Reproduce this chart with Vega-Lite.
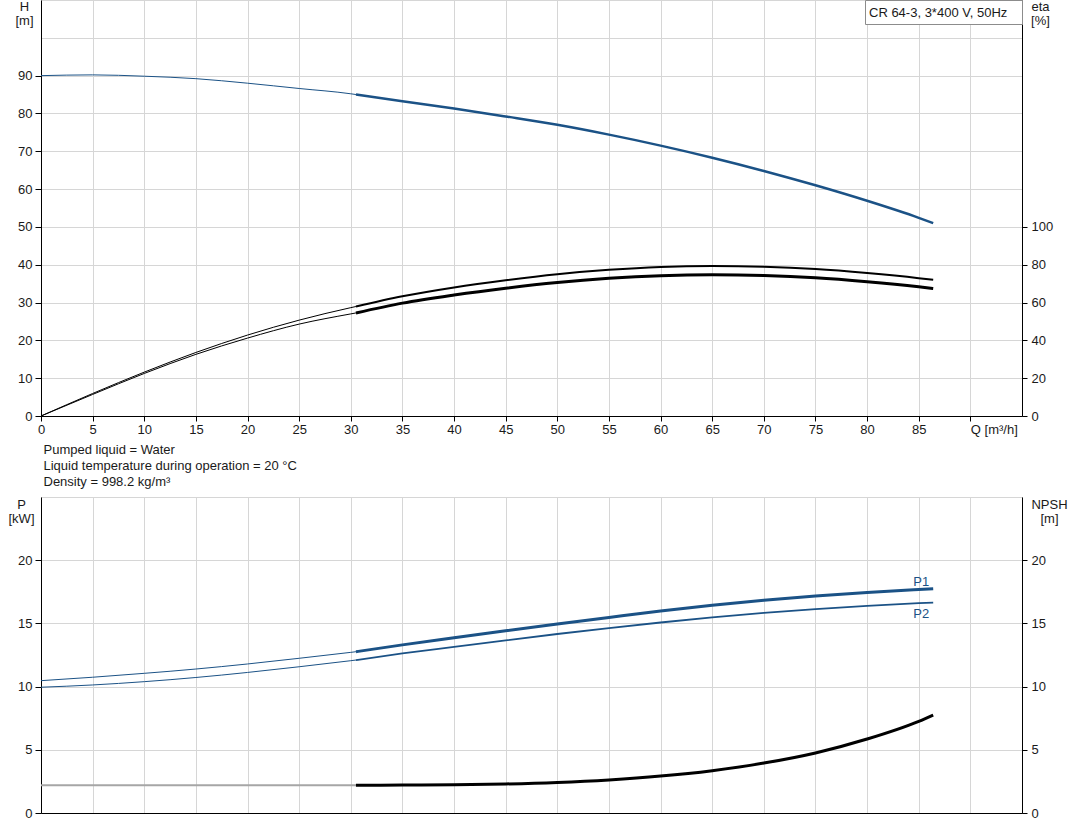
{
  "$schema": "https://vega.github.io/schema/vega-lite/v6.json",
  "background": "white",
  "padding": {"left": 7, "top": -4, "right": 3, "bottom": 20},
  "spacing": 7,
  "datasets": {
    "curves": [
      {"s": "H", "r": "ext", "q": 0, "v": 90.0},
      {"s": "H", "r": "ext", "q": 5, "v": 90.2},
      {"s": "H", "r": "ext", "q": 10, "v": 89.85},
      {"s": "H", "r": "ext", "q": 15, "v": 89.2},
      {"s": "H", "r": "ext", "q": 20, "v": 88.0},
      {"s": "H", "r": "ext", "q": 25, "v": 86.6},
      {"s": "H", "r": "ext", "q": 30, "v": 85.2},
      {"s": "H", "r": "ext", "q": 30.5, "v": 85.0},
      {"s": "H", "r": "duty", "q": 30.5, "v": 85.0},
      {"s": "H", "r": "duty", "q": 35, "v": 83.2},
      {"s": "H", "r": "duty", "q": 40, "v": 81.3},
      {"s": "H", "r": "duty", "q": 45, "v": 79.2},
      {"s": "H", "r": "duty", "q": 50, "v": 77.0},
      {"s": "H", "r": "duty", "q": 55, "v": 74.4},
      {"s": "H", "r": "duty", "q": 60, "v": 71.5},
      {"s": "H", "r": "duty", "q": 65, "v": 68.3},
      {"s": "H", "r": "duty", "q": 70, "v": 64.8},
      {"s": "H", "r": "duty", "q": 75, "v": 61.0},
      {"s": "H", "r": "duty", "q": 80, "v": 56.9},
      {"s": "H", "r": "duty", "q": 85, "v": 52.4},
      {"s": "H", "r": "duty", "q": 86.4, "v": 51.0},

      {"s": "eta", "r": "ext", "q": 0, "v": 0},
      {"s": "eta", "r": "ext", "q": 5, "v": 11.9},
      {"s": "eta", "r": "ext", "q": 10, "v": 23.2},
      {"s": "eta", "r": "ext", "q": 15, "v": 33.6},
      {"s": "eta", "r": "ext", "q": 20, "v": 42.8},
      {"s": "eta", "r": "ext", "q": 25, "v": 50.7},
      {"s": "eta", "r": "ext", "q": 30, "v": 57.3},
      {"s": "eta", "r": "ext", "q": 30.5, "v": 57.9},
      {"s": "eta", "r": "duty", "q": 30.5, "v": 57.9},
      {"s": "eta", "r": "duty", "q": 35, "v": 63.3},
      {"s": "eta", "r": "duty", "q": 40, "v": 68.0},
      {"s": "eta", "r": "duty", "q": 45, "v": 71.8},
      {"s": "eta", "r": "duty", "q": 50, "v": 75.0},
      {"s": "eta", "r": "duty", "q": 55, "v": 77.3},
      {"s": "eta", "r": "duty", "q": 60, "v": 78.8},
      {"s": "eta", "r": "duty", "q": 65, "v": 79.3},
      {"s": "eta", "r": "duty", "q": 70, "v": 78.9},
      {"s": "eta", "r": "duty", "q": 75, "v": 77.7},
      {"s": "eta", "r": "duty", "q": 80, "v": 75.6},
      {"s": "eta", "r": "duty", "q": 85, "v": 72.9},
      {"s": "eta", "r": "duty", "q": 86.4, "v": 72.0},

      {"s": "etaT", "r": "ext", "q": 0, "v": 0},
      {"s": "etaT", "r": "ext", "q": 5, "v": 11.4},
      {"s": "etaT", "r": "ext", "q": 10, "v": 22.5},
      {"s": "etaT", "r": "ext", "q": 15, "v": 32.6},
      {"s": "etaT", "r": "ext", "q": 20, "v": 41.2},
      {"s": "etaT", "r": "ext", "q": 25, "v": 48.6},
      {"s": "etaT", "r": "ext", "q": 30, "v": 54.0},
      {"s": "etaT", "r": "ext", "q": 30.5, "v": 54.5},
      {"s": "etaT", "r": "duty", "q": 30.5, "v": 54.5},
      {"s": "etaT", "r": "duty", "q": 35, "v": 59.7},
      {"s": "etaT", "r": "duty", "q": 40, "v": 64.0},
      {"s": "etaT", "r": "duty", "q": 45, "v": 67.6},
      {"s": "etaT", "r": "duty", "q": 50, "v": 70.6},
      {"s": "etaT", "r": "duty", "q": 55, "v": 72.8},
      {"s": "etaT", "r": "duty", "q": 60, "v": 74.2},
      {"s": "etaT", "r": "duty", "q": 65, "v": 74.7},
      {"s": "etaT", "r": "duty", "q": 70, "v": 74.3},
      {"s": "etaT", "r": "duty", "q": 75, "v": 73.1},
      {"s": "etaT", "r": "duty", "q": 80, "v": 71.0},
      {"s": "etaT", "r": "duty", "q": 85, "v": 68.3},
      {"s": "etaT", "r": "duty", "q": 86.4, "v": 67.4},

      {"s": "P1", "r": "ext", "q": 0, "v": 10.47},
      {"s": "P1", "r": "ext", "q": 5, "v": 10.74},
      {"s": "P1", "r": "ext", "q": 10, "v": 11.05},
      {"s": "P1", "r": "ext", "q": 15, "v": 11.39},
      {"s": "P1", "r": "ext", "q": 20, "v": 11.79},
      {"s": "P1", "r": "ext", "q": 25, "v": 12.24},
      {"s": "P1", "r": "ext", "q": 30, "v": 12.71},
      {"s": "P1", "r": "ext", "q": 30.5, "v": 12.76},
      {"s": "P1", "r": "duty", "q": 30.5, "v": 12.76},
      {"s": "P1", "r": "duty", "q": 35, "v": 13.3},
      {"s": "P1", "r": "duty", "q": 40, "v": 13.86},
      {"s": "P1", "r": "duty", "q": 45, "v": 14.41},
      {"s": "P1", "r": "duty", "q": 50, "v": 14.95},
      {"s": "P1", "r": "duty", "q": 55, "v": 15.47},
      {"s": "P1", "r": "duty", "q": 60, "v": 15.98},
      {"s": "P1", "r": "duty", "q": 65, "v": 16.43},
      {"s": "P1", "r": "duty", "q": 70, "v": 16.83},
      {"s": "P1", "r": "duty", "q": 75, "v": 17.17},
      {"s": "P1", "r": "duty", "q": 80, "v": 17.45},
      {"s": "P1", "r": "duty", "q": 85, "v": 17.68},
      {"s": "P1", "r": "duty", "q": 86.4, "v": 17.74},

      {"s": "P2", "r": "ext", "q": 0, "v": 9.95},
      {"s": "P2", "r": "ext", "q": 5, "v": 10.13},
      {"s": "P2", "r": "ext", "q": 10, "v": 10.39},
      {"s": "P2", "r": "ext", "q": 15, "v": 10.72},
      {"s": "P2", "r": "ext", "q": 20, "v": 11.12},
      {"s": "P2", "r": "ext", "q": 25, "v": 11.57},
      {"s": "P2", "r": "ext", "q": 30, "v": 12.05},
      {"s": "P2", "r": "ext", "q": 30.5, "v": 12.1},
      {"s": "P2", "r": "duty", "q": 30.5, "v": 12.1},
      {"s": "P2", "r": "duty", "q": 35, "v": 12.62},
      {"s": "P2", "r": "duty", "q": 40, "v": 13.14},
      {"s": "P2", "r": "duty", "q": 45, "v": 13.66},
      {"s": "P2", "r": "duty", "q": 50, "v": 14.16},
      {"s": "P2", "r": "duty", "q": 55, "v": 14.63},
      {"s": "P2", "r": "duty", "q": 60, "v": 15.07},
      {"s": "P2", "r": "duty", "q": 65, "v": 15.47},
      {"s": "P2", "r": "duty", "q": 70, "v": 15.83},
      {"s": "P2", "r": "duty", "q": 75, "v": 16.13},
      {"s": "P2", "r": "duty", "q": 80, "v": 16.39},
      {"s": "P2", "r": "duty", "q": 85, "v": 16.6},
      {"s": "P2", "r": "duty", "q": 86.4, "v": 16.65},

      {"s": "NPSH", "r": "ext", "q": 0, "v": 2.2},
      {"s": "NPSH", "r": "ext", "q": 30.5, "v": 2.2},
      {"s": "NPSH", "r": "duty", "q": 30.5, "v": 2.2},
      {"s": "NPSH", "r": "duty", "q": 35, "v": 2.21},
      {"s": "NPSH", "r": "duty", "q": 40, "v": 2.24},
      {"s": "NPSH", "r": "duty", "q": 45, "v": 2.3},
      {"s": "NPSH", "r": "duty", "q": 50, "v": 2.42},
      {"s": "NPSH", "r": "duty", "q": 55, "v": 2.62},
      {"s": "NPSH", "r": "duty", "q": 60, "v": 2.92},
      {"s": "NPSH", "r": "duty", "q": 65, "v": 3.35},
      {"s": "NPSH", "r": "duty", "q": 70, "v": 3.95},
      {"s": "NPSH", "r": "duty", "q": 75, "v": 4.75},
      {"s": "NPSH", "r": "duty", "q": 80, "v": 5.85},
      {"s": "NPSH", "r": "duty", "q": 85, "v": 7.25},
      {"s": "NPSH", "r": "duty", "q": 86.4, "v": 7.75}
    ]
  },
  "data": {"name": "curves"},
  "vconcat": [
    {
      "width": 981,
      "height": 416,
      "encoding": {
        "x": {
          "field": "q", "type": "quantitative",
          "scale": {"domain": [0, 95], "nice": false, "zero": false},
          "axis": {
            "values": [0, 5, 10, 15, 20, 25, 30, 35, 40, 45, 50, 55, 60, 65, 70, 75, 80, 85, 90],
            "grid": true,
            "labelExpr": "datum.value == 90 ? 'Q [m³/h]' : datum.label",
            "labelAlign": {"condition": {"test": "datum.value == 90", "value": "left"}, "value": "center"},
            "tickSize": 5,
            "labelPadding": 2,
            "title": ["Pumped liquid = Water", "Liquid temperature during operation = 20 °C", "Density = 998.2 kg/m³"],
            "titleAnchor": "start",
            "titleAlign": "left",
            "titleBaseline": "top",
            "titleX": 2,
            "titleY": 27,
            "titleLineHeight": 16
          }
        }
      },
      "layer": [
        {
          "transform": [{"filter": "datum.s == 'H'"}],
          "encoding": {
            "y": {
              "field": "v", "type": "quantitative",
              "scale": {"domain": [0, 110], "nice": false, "zero": false},
              "axis": {
                "values": [0, 10, 20, 30, 40, 50, 60, 70, 80, 90, 100, 110],
                "grid": true,
                "labelExpr": "datum.value > 90 ? '' : datum.label",
                "labelFontSize": {"condition": {"test": "datum.value > 90", "value": 0}, "value": 13},
                "tickOpacity": {"condition": {"test": "datum.value > 90", "value": 0}, "value": 1},
                "tickSize": 6,
                "labelPadding": 3,
                "title": ["H", "[m]"],
                "titleAngle": 0,
                "titleAlign": "center",
                "titleBaseline": "top",
                "titleX": -17,
                "titleY": 0,
                "titleLineHeight": 14
              }
            }
          },
          "layer": [
            {"transform": [{"filter": "datum.r == 'ext'"}], "mark": {"type": "line", "color": "#1b5286", "strokeWidth": 1, "interpolate": "monotone"}},
            {"transform": [{"filter": "datum.r == 'duty'"}], "mark": {"type": "line", "color": "#1b5286", "strokeWidth": 2.5, "interpolate": "monotone"}}
          ]
        },
        {
          "transform": [{"filter": "datum.s == 'eta' || datum.s == 'etaT'"}],
          "encoding": {
            "y": {
              "field": "v", "type": "quantitative",
              "scale": {"domain": [0, 220], "nice": false, "zero": false},
              "axis": {
                "orient": "right",
                "values": [0, 20, 40, 60, 80, 100],
                "grid": false,
                "tickSize": 5,
                "labelPadding": 4,
                "title": ["eta", "[%]"],
                "titleAngle": 0,
                "titleAlign": "center",
                "titleBaseline": "top",
                "titleX": 18,
                "titleY": 0,
                "titleLineHeight": 14
              }
            }
          },
          "layer": [
            {"transform": [{"filter": "datum.s == 'eta' && datum.r == 'ext'"}], "mark": {"type": "line", "color": "#000", "strokeWidth": 1, "interpolate": "monotone"}},
            {"transform": [{"filter": "datum.s == 'eta' && datum.r == 'duty'"}], "mark": {"type": "line", "color": "#000", "strokeWidth": 2, "interpolate": "monotone"}},
            {"transform": [{"filter": "datum.s == 'etaT' && datum.r == 'ext'"}], "mark": {"type": "line", "color": "#000", "strokeWidth": 1, "interpolate": "monotone"}},
            {"transform": [{"filter": "datum.s == 'etaT' && datum.r == 'duty'"}], "mark": {"type": "line", "color": "#000", "strokeWidth": 3, "interpolate": "monotone"}}
          ]
        },
        {
          "data": {"values": [{"model": "CR 64-3, 3*400 V, 50Hz"}]},
          "mark": {"type": "point", "opacity": 0},
          "encoding": {
            "x": {"value": 0},
            "y": {"value": 0},
            "shape": {
              "field": "model", "type": "nominal",
              "legend": {
                "title": "CR 64-3, 3*400 V, 50Hz",
                "titleOrient": "left",
                "titleFontSize": 13,
                "titleFontWeight": "normal",
                "titleColor": "#1a1a1a",
                "titlePadding": 0,
                "titleBaseline": "top",
                "orient": "top-right",
                "offset": 0,
                "padding": 4,
                "strokeColor": "#8c8c8c",
                "fillColor": "white",
                "symbolSize": 0,
                "symbolOpacity": 0,
                "symbolStrokeWidth": 0,
                "labelOffset": 0,
                "labelExpr": "''",
                "labelFontSize": 0,
                "labelOpacity": 0
              }
            }
          }
        }
      ],
      "resolve": {"scale": {"y": "independent"}}
    },
    {
      "width": 981,
      "height": 316,
      "encoding": {
        "x": {
          "field": "q", "type": "quantitative",
          "scale": {"domain": [0, 95], "nice": false, "zero": false},
          "axis": {
            "values": [0, 5, 10, 15, 20, 25, 30, 35, 40, 45, 50, 55, 60, 65, 70, 75, 80, 85, 90],
            "grid": true,
            "labels": false,
            "ticks": false,
            "title": null
          }
        }
      },
      "layer": [
        {
          "transform": [{"filter": "datum.s == 'P1' || datum.s == 'P2'"}],
          "encoding": {
            "y": {
              "field": "v", "type": "quantitative",
              "scale": {"domain": [0, 25], "nice": false, "zero": false},
              "axis": {
                "values": [0, 5, 10, 15, 20, 25],
                "grid": true,
                "labelExpr": "datum.value > 20 ? '' : datum.label",
                "labelFontSize": {"condition": {"test": "datum.value > 20", "value": 0}, "value": 13},
                "tickOpacity": {"condition": {"test": "datum.value > 20", "value": 0}, "value": 1},
                "tickSize": 6,
                "labelPadding": 3,
                "title": ["P", "[kW]"],
                "titleAngle": 0,
                "titleAlign": "center",
                "titleBaseline": "top",
                "titleX": -20,
                "titleY": 1,
                "titleLineHeight": 14
              }
            }
          },
          "layer": [
            {"transform": [{"filter": "datum.s == 'P1' && datum.r == 'ext'"}], "mark": {"type": "line", "color": "#1b5286", "strokeWidth": 1, "interpolate": "monotone"}},
            {"transform": [{"filter": "datum.s == 'P1' && datum.r == 'duty'"}], "mark": {"type": "line", "color": "#1b5286", "strokeWidth": 3, "interpolate": "monotone"}},
            {"transform": [{"filter": "datum.s == 'P2' && datum.r == 'ext'"}], "mark": {"type": "line", "color": "#1b5286", "strokeWidth": 1, "interpolate": "monotone"}},
            {"transform": [{"filter": "datum.s == 'P2' && datum.r == 'duty'"}], "mark": {"type": "line", "color": "#1b5286", "strokeWidth": 1.8, "interpolate": "monotone"}},
            {"transform": [{"filter": "datum.s == 'P1' && datum.q == 86.4"}], "mark": {"type": "text", "color": "#1b5286", "fontSize": 13, "align": "right", "baseline": "bottom", "dx": -4, "dy": 0}, "encoding": {"text": {"field": "s"}}},
            {"transform": [{"filter": "datum.s == 'P2' && datum.q == 86.4"}], "mark": {"type": "text", "color": "#1b5286", "fontSize": 13, "align": "right", "baseline": "top", "dx": -4, "dy": 5}, "encoding": {"text": {"field": "s"}}}
          ]
        },
        {
          "transform": [{"filter": "datum.s == 'NPSH'"}],
          "encoding": {
            "y": {
              "field": "v", "type": "quantitative",
              "scale": {"domain": [0, 25], "nice": false, "zero": false},
              "axis": {
                "orient": "right",
                "values": [0, 5, 10, 15, 20],
                "grid": false,
                "tickSize": 5,
                "labelPadding": 4,
                "title": ["NPSH", "[m]"],
                "titleAngle": 0,
                "titleAlign": "center",
                "titleBaseline": "top",
                "titleX": 27,
                "titleY": 1,
                "titleLineHeight": 14
              }
            }
          },
          "layer": [
            {"transform": [{"filter": "datum.r == 'ext'"}], "mark": {"type": "line", "color": "#a6a6a6", "strokeWidth": 2, "interpolate": "monotone"}},
            {"transform": [{"filter": "datum.r == 'duty'"}], "mark": {"type": "line", "color": "#000", "strokeWidth": 3, "interpolate": "monotone"}}
          ]
        }
      ],
      "resolve": {"scale": {"y": "independent"}}
    }
  ],
  "config": {
    "font": "Liberation Sans",
    "view": {"stroke": "#9a9a9a", "strokeWidth": 1},
    "axis": {
      "labelFont": "Liberation Sans",
      "labelFontSize": 13,
      "labelColor": "#1a1a1a",
      "titleFont": "Liberation Sans",
      "titleFontSize": 13,
      "titleFontWeight": "normal",
      "titleColor": "#1a1a1a",
      "domainColor": "#000",
      "domainWidth": 1,
      "tickColor": "#000",
      "gridColor": "#d6d6d6",
      "gridWidth": 1,
      "labelFlush": false,
      "labelOverlap": false,
      "labelBound": false
    },
    "legend": {"labelFont": "Liberation Sans", "titleFont": "Liberation Sans"}
  }
}
